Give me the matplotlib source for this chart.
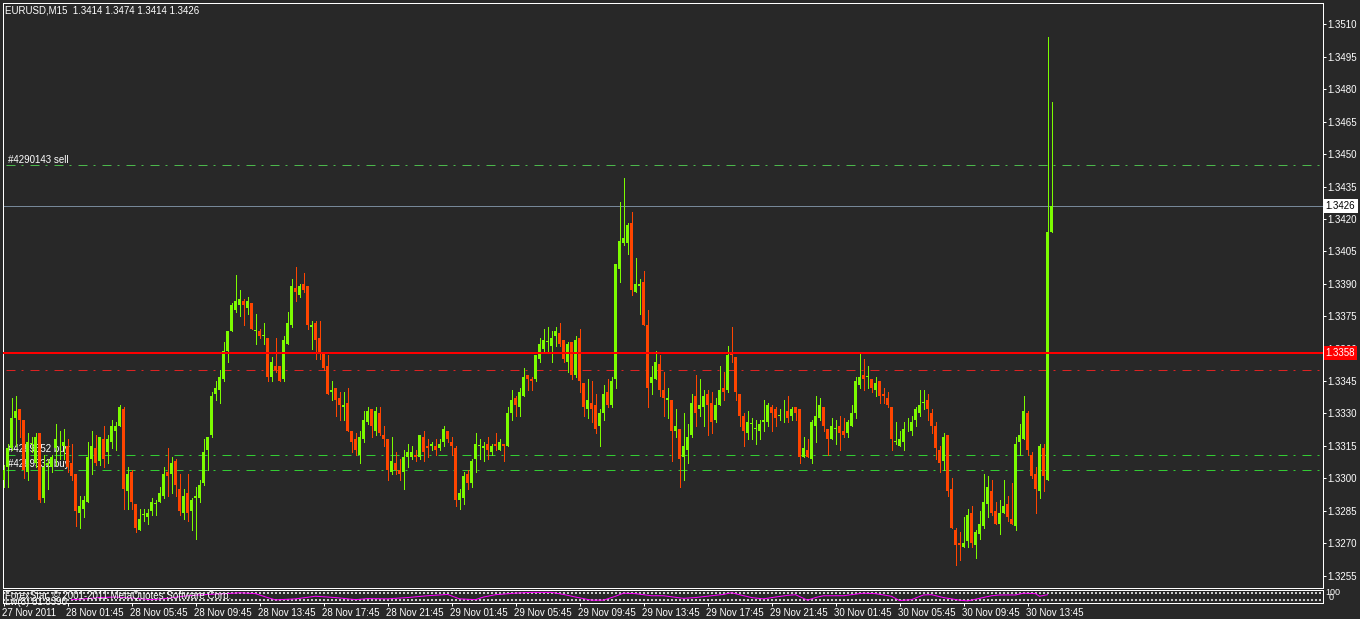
import matplotlib
matplotlib.use("Agg")
import matplotlib.pyplot as plt
from matplotlib.transforms import blended_transform_factory, ScaledTranslation
import numpy as np

plt.rcParams['font.family'] = ['Liberation Sans', 'DejaVu Sans']

title_text = "EURUSD,M15  1.3414 1.3474 1.3414 1.3426"

# M15 bars (oldest first)
opens = [
    1.3299, 1.3305, 1.3314, 1.3328, 1.3332, 1.3327, 1.3303, 1.3316, 1.3307, 1.3321,
    1.3291, 1.3306, 1.3305, 1.3314, 1.3318, 1.3315, 1.3315, 1.3307, 1.3302, 1.3284,
    1.3286, 1.3289, 1.3309, 1.3314, 1.3308, 1.3318, 1.3312, 1.3317, 1.3322, 1.3324,
    1.3332, 1.3294, 1.3303, 1.3288, 1.3276, 1.3283, 1.3282, 1.3285, 1.3288, 1.3289,
    1.3292, 1.3303, 1.3302, 1.3308, 1.3295, 1.3284, 1.3293, 1.3285, 1.3291, 1.3291,
    1.3298, 1.3313, 1.3320, 1.3339, 1.3341, 1.3346, 1.3359, 1.3368, 1.3378, 1.3380,
    1.3382, 1.3379, 1.3381, 1.3368, 1.3368, 1.3366, 1.3365, 1.3347, 1.3352, 1.3352,
    1.3346, 1.3362, 1.3371, 1.3388, 1.3385, 1.3390, 1.3389, 1.3370, 1.3372, 1.3365,
    1.3358, 1.3352, 1.3340, 1.3342, 1.3337, 1.3333, 1.3335, 1.3322, 1.3318, 1.3311,
    1.3318, 1.3326, 1.3332, 1.3322, 1.3330, 1.3320, 1.3318, 1.3303, 1.3307, 1.3304,
    1.3303, 1.3310, 1.3310, 1.3311, 1.3310, 1.3319, 1.3315, 1.3315, 1.3315, 1.3314,
    1.3317, 1.3322, 1.3317, 1.3314, 1.3290, 1.3291, 1.3302, 1.3298, 1.3309, 1.3315,
    1.3314, 1.3316, 1.3312, 1.3316, 1.3313, 1.3316, 1.3315, 1.3330, 1.3337, 1.3333,
    1.3338, 1.3348, 1.3346, 1.3346, 1.3355, 1.3360, 1.3363, 1.3361, 1.3366, 1.3367,
    1.3364, 1.3354, 1.3363, 1.3348, 1.3365, 1.3344, 1.3332, 1.3335, 1.3334, 1.3324,
    1.3330, 1.3340, 1.3334, 1.3346, 1.3397, 1.3409, 1.3409, 1.3418, 1.3386, 1.3389,
    1.3391, 1.3371, 1.3344, 1.3346, 1.3353, 1.3341, 1.3336, 1.3336, 1.3322, 1.3323,
    1.3310, 1.3313, 1.3320, 1.3338, 1.3332, 1.3333, 1.3339, 1.3335, 1.3327, 1.3334,
    1.3342, 1.3341, 1.3358, 1.3356, 1.3339, 1.3329, 1.3321, 1.3325, 1.3323, 1.3322,
    1.3326, 1.3326, 1.3333, 1.3332, 1.3329, 1.3330, 1.3331, 1.3329, 1.3333, 1.3332,
    1.3310, 1.3313, 1.3309, 1.3324, 1.3328, 1.3333, 1.3323, 1.3318, 1.3323, 1.3324,
    1.3322, 1.3321, 1.3324, 1.3330, 1.3343, 1.3348, 1.3347, 1.3346, 1.3341, 1.3345,
    1.3339, 1.3337, 1.3333, 1.3317, 1.3315, 1.3317, 1.3324, 1.3322, 1.3327, 1.3330,
    1.3335, 1.3336, 1.3330, 1.3324, 1.3313, 1.3308, 1.3320, 1.3295, 1.3276, 1.3270,
    1.3268, 1.3271, 1.3284, 1.3269, 1.3274, 1.3278, 1.3288, 1.3294, 1.3285, 1.3279,
    1.3284, 1.3288, 1.3281, 1.3278, 1.3317, 1.3318, 1.3330, 1.3311, 1.3302, 1.3294,
    1.3314, 1.3299, 1.3414,
]
highs = [
    1.3306, 1.3316, 1.3337, 1.3338, 1.3332, 1.3327, 1.3321, 1.3319, 1.3321, 1.3321,
    1.3311, 1.3309, 1.3311, 1.3325, 1.3322, 1.3323, 1.3318, 1.3316, 1.3302, 1.3292,
    1.3292, 1.3317, 1.3322, 1.3320, 1.3319, 1.3324, 1.3320, 1.3327, 1.3326, 1.3334,
    1.3333, 1.3305, 1.3304, 1.3288, 1.3286, 1.3286, 1.3286, 1.3291, 1.3290, 1.3296,
    1.3305, 1.3314, 1.3310, 1.3309, 1.3302, 1.3295, 1.3302, 1.3291, 1.3296, 1.3299,
    1.3318, 1.3319, 1.3340, 1.3345, 1.3350, 1.3363, 1.3368, 1.3381, 1.3394, 1.3387,
    1.3383, 1.3384, 1.3381, 1.3376, 1.3369, 1.3372, 1.3365, 1.3356, 1.3365, 1.3352,
    1.3366, 1.3377, 1.3392, 1.3398, 1.3390, 1.3395, 1.3389, 1.3373, 1.3373, 1.3373,
    1.3358, 1.3357, 1.3345, 1.3342, 1.3340, 1.3340, 1.3342, 1.3322, 1.3321, 1.3322,
    1.3331, 1.3333, 1.3332, 1.3333, 1.3333, 1.3324, 1.3318, 1.3319, 1.3312, 1.3309,
    1.3313, 1.3316, 1.3315, 1.3313, 1.3320, 1.3322, 1.3318, 1.3317, 1.3318, 1.3318,
    1.3324, 1.3322, 1.3319, 1.3315, 1.3295, 1.3303, 1.3304, 1.3309, 1.3321, 1.3318,
    1.3317, 1.3319, 1.3316, 1.3321, 1.3318, 1.3316, 1.3333, 1.3341, 1.3338, 1.3342,
    1.3351, 1.3348, 1.3347, 1.3357, 1.3365, 1.3369, 1.3370, 1.3368, 1.3370, 1.3372,
    1.3364, 1.3363, 1.3363, 1.3366, 1.3369, 1.3344, 1.3346, 1.3345, 1.3339, 1.3332,
    1.3343, 1.3346, 1.3347, 1.3399, 1.3428, 1.3439, 1.3418, 1.3423, 1.3402, 1.3392,
    1.3396, 1.3378, 1.3352, 1.3359, 1.3357, 1.3349, 1.3342, 1.3336, 1.3332, 1.3323,
    1.3330, 1.3325, 1.3339, 1.3348, 1.3346, 1.3341, 1.3341, 1.3340, 1.3337, 1.3352,
    1.3349, 1.3361, 1.3370, 1.3356, 1.3339, 1.3330, 1.3331, 1.3328, 1.3327, 1.3327,
    1.3336, 1.3335, 1.3334, 1.3333, 1.3332, 1.3336, 1.3338, 1.3333, 1.3333, 1.3332,
    1.3319, 1.3318, 1.3327, 1.3338, 1.3337, 1.3333, 1.3323, 1.3328, 1.3327, 1.3329,
    1.3328, 1.3327, 1.3334, 1.3347, 1.3358, 1.3355, 1.3352, 1.3346, 1.3347, 1.3345,
    1.3342, 1.3340, 1.3333, 1.3326, 1.3322, 1.3326, 1.3328, 1.3329, 1.3333, 1.3341,
    1.3341, 1.3339, 1.3332, 1.3326, 1.3315, 1.3321, 1.3320, 1.3300, 1.3277, 1.3275,
    1.3282, 1.3286, 1.3287, 1.3276, 1.3285, 1.3302, 1.3301, 1.3299, 1.3289, 1.3290,
    1.3299, 1.3292, 1.3298, 1.3319, 1.3325, 1.3338, 1.3331, 1.3312, 1.3305, 1.3316,
    1.3316, 1.3504, 1.3474,
]
lows = [
    1.3296, 1.3296, 1.3313, 1.3315, 1.3319, 1.3300, 1.3299, 1.3312, 1.3305, 1.3289,
    1.3289, 1.3295, 1.3303, 1.3306, 1.3309, 1.3309, 1.3303, 1.3299, 1.3278, 1.3277,
    1.3282, 1.3289, 1.3302, 1.3306, 1.3306, 1.3305, 1.3307, 1.3314, 1.3313, 1.3324,
    1.3286, 1.3286, 1.3286, 1.3275, 1.3276, 1.3280, 1.3279, 1.3283, 1.3283, 1.3289,
    1.3291, 1.3292, 1.3293, 1.3292, 1.3283, 1.3281, 1.3280, 1.3276, 1.3272, 1.3289,
    1.3297, 1.3304, 1.3319, 1.3336, 1.3335, 1.3345, 1.3354, 1.3368, 1.3377, 1.3375,
    1.3371, 1.3376, 1.3369, 1.3362, 1.3365, 1.3362, 1.3345, 1.3345, 1.3349, 1.3345,
    1.3345, 1.3362, 1.3370, 1.3382, 1.3384, 1.3386, 1.3369, 1.3360, 1.3355, 1.3355,
    1.3350, 1.3339, 1.3336, 1.3329, 1.3327, 1.3327, 1.3322, 1.3312, 1.3311, 1.3307,
    1.3317, 1.3325, 1.3319, 1.3320, 1.3320, 1.3315, 1.3299, 1.3302, 1.3302, 1.3299,
    1.3295, 1.3305, 1.3309, 1.3308, 1.3309, 1.3308, 1.3310, 1.3313, 1.3311, 1.3313,
    1.3315, 1.3317, 1.3311, 1.3287, 1.3286, 1.3288, 1.3295, 1.3296, 1.3303, 1.3309,
    1.3308, 1.3309, 1.3311, 1.3313, 1.3313, 1.3308, 1.3315, 1.3327, 1.3329, 1.3329,
    1.3338, 1.3341, 1.3341, 1.3345, 1.3354, 1.3358, 1.3358, 1.3354, 1.3361, 1.3361,
    1.3354, 1.3349, 1.3346, 1.3347, 1.3340, 1.3329, 1.3328, 1.3326, 1.3321, 1.3315,
    1.3327, 1.3333, 1.3333, 1.3342, 1.3391, 1.3408, 1.3404, 1.3385, 1.3386, 1.3376,
    1.3371, 1.3333, 1.3339, 1.3346, 1.3338, 1.3329, 1.3328, 1.3308, 1.3319, 1.3296,
    1.3299, 1.3307, 1.3319, 1.3324, 1.3329, 1.3324, 1.3320, 1.3321, 1.3326, 1.3334,
    1.3336, 1.3340, 1.3354, 1.3336, 1.3324, 1.3315, 1.3318, 1.3318, 1.3316, 1.3318,
    1.3322, 1.3324, 1.3322, 1.3324, 1.3327, 1.3326, 1.3326, 1.3327, 1.3327, 1.3307,
    1.3310, 1.3310, 1.3307, 1.3317, 1.3327, 1.3322, 1.3311, 1.3318, 1.3316, 1.3313,
    1.3319, 1.3319, 1.3324, 1.3328, 1.3342, 1.3341, 1.3342, 1.3340, 1.3338, 1.3335,
    1.3335, 1.3333, 1.3313, 1.3316, 1.3315, 1.3313, 1.3322, 1.3320, 1.3324, 1.3329,
    1.3332, 1.3327, 1.3321, 1.3309, 1.3303, 1.3304, 1.3292, 1.3277, 1.3260, 1.3262,
    1.3268, 1.3268, 1.3268, 1.3263, 1.3272, 1.3277, 1.3282, 1.3283, 1.3279, 1.3274,
    1.3284, 1.3280, 1.3279, 1.3276, 1.3311, 1.3318, 1.3311, 1.3300, 1.3284, 1.3291,
    1.3294, 1.3299, 1.3414,
]
closes = [
    1.3304, 1.3314, 1.3328, 1.3331, 1.3327, 1.3304, 1.3317, 1.3316, 1.3319, 1.3290,
    1.3305, 1.3307, 1.3310, 1.3318, 1.3318, 1.3317, 1.3305, 1.3301, 1.3285, 1.3287,
    1.3290, 1.3310, 1.3315, 1.3307, 1.3319, 1.3309, 1.3318, 1.3324, 1.3324, 1.3333,
    1.3295, 1.3302, 1.3289, 1.3277, 1.3281, 1.3283, 1.3284, 1.3289, 1.3288, 1.3293,
    1.3302, 1.3301, 1.3307, 1.3297, 1.3285, 1.3292, 1.3284, 1.3290, 1.3292, 1.3297,
    1.3312, 1.3319, 1.3338, 1.3342, 1.3347, 1.3359, 1.3368, 1.3380, 1.3382, 1.3383,
    1.3380, 1.3382, 1.3369, 1.3368, 1.3366, 1.3366, 1.3347, 1.3354, 1.3350, 1.3345,
    1.3364, 1.3372, 1.3389, 1.3386, 1.3389, 1.3387, 1.3371, 1.3371, 1.3364, 1.3358,
    1.3351, 1.3339, 1.3341, 1.3336, 1.3334, 1.3334, 1.3322, 1.3317, 1.3313, 1.3319,
    1.3327, 1.3331, 1.3324, 1.3331, 1.3321, 1.3318, 1.3304, 1.3308, 1.3304, 1.3302,
    1.3310, 1.3312, 1.3312, 1.3310, 1.3320, 1.3312, 1.3314, 1.3316, 1.3313, 1.3316,
    1.3323, 1.3318, 1.3315, 1.3290, 1.3293, 1.3301, 1.3298, 1.3308, 1.3316, 1.3315,
    1.3315, 1.3313, 1.3315, 1.3315, 1.3317, 1.3315, 1.3330, 1.3336, 1.3334, 1.3340,
    1.3347, 1.3346, 1.3345, 1.3357, 1.3362, 1.3364, 1.3363, 1.3365, 1.3368, 1.3362,
    1.3355, 1.3362, 1.3348, 1.3364, 1.3345, 1.3333, 1.3336, 1.3332, 1.3323, 1.3330,
    1.3339, 1.3334, 1.3345, 1.3399, 1.3410, 1.3411, 1.3417, 1.3387, 1.3390, 1.3390,
    1.3371, 1.3342, 1.3347, 1.3354, 1.3341, 1.3337, 1.3337, 1.3322, 1.3324, 1.3309,
    1.3315, 1.3319, 1.3335, 1.3330, 1.3334, 1.3338, 1.3334, 1.3326, 1.3334, 1.3341,
    1.3340, 1.3357, 1.3357, 1.3340, 1.3329, 1.3322, 1.3326, 1.3325, 1.3323, 1.3325,
    1.3327, 1.3334, 1.3330, 1.3328, 1.3329, 1.3330, 1.3328, 1.3332, 1.3330, 1.3310,
    1.3314, 1.3310, 1.3326, 1.3329, 1.3334, 1.3324, 1.3318, 1.3324, 1.3323, 1.3321,
    1.3320, 1.3326, 1.3330, 1.3345, 1.3347, 1.3346, 1.3347, 1.3342, 1.3344, 1.3338,
    1.3338, 1.3334, 1.3318, 1.3317, 1.3318, 1.3323, 1.3324, 1.3326, 1.3332, 1.3334,
    1.3335, 1.3332, 1.3324, 1.3314, 1.3307, 1.3319, 1.3294, 1.3277, 1.3269, 1.3269,
    1.3270, 1.3283, 1.3270, 1.3275, 1.3279, 1.3289, 1.3296, 1.3284, 1.3279, 1.3284,
    1.3287, 1.3282, 1.3279, 1.3316, 1.3320, 1.3331, 1.3313, 1.3301, 1.3295, 1.3315,
    1.3301, 1.3414, 1.3426,
]

time_labels = ["27 Nov 2011", "28 Nov 01:45", "28 Nov 05:45", "28 Nov 09:45",
               "28 Nov 13:45", "28 Nov 17:45", "28 Nov 21:45", "29 Nov 01:45",
               "29 Nov 05:45", "29 Nov 09:45", "29 Nov 13:45", "29 Nov 17:45",
               "29 Nov 21:45", "30 Nov 01:45", "30 Nov 05:45", "30 Nov 09:45",
               "30 Nov 13:45"]
bars_per_label = 16

price_labels = ["1.3255", "1.3270", "1.3285", "1.3300", "1.3315", "1.3330",
                "1.3345", "1.3360", "1.3375", "1.3390", "1.3405", "1.3420",
                "1.3435", "1.3450", "1.3465", "1.3480", "1.3495", "1.3510"]

bid_price = 1.3426
red_level = 1.3358
red_level_dashed = 1.3350
order_names = ["#4290143 sell", "#4289552 buy", "#4289532 buy"]
order_prices = [1.3445, 1.3311, 1.3304]

# indicator in the small window below
osc_bars = [17, 21, 24, 28, 33, 37, 41, 46, 51, 58, 59, 63, 66, 68, 73, 78, 83, 88,
            91, 96, 101, 106, 111, 114, 118, 120, 123, 128, 132, 137, 140, 143, 147,
            150, 153, 155, 158, 162, 165, 170, 173, 177, 180, 182, 184, 187, 190, 193,
            196, 198, 201, 203, 205, 210, 215, 218, 222, 224, 227, 230, 232, 235, 239,
            241, 244, 247, 249, 253, 255, 258, 259, 261]
osc_values = [22, 30, 38, 42, 32, 22, 32, 52, 62, 72, 75, 68, 38, 20, 28, 48, 38, 22,
              30, 28, 38, 52, 62, 28, 22, 42, 60, 72, 78, 78, 62, 42, 18,
              18, 48, 72, 68, 52, 52, 32, 38, 52, 62, 75, 60, 38, 28, 42,
              55, 60, 18, 38, 52, 52, 72, 68, 48, 15, 22, 58, 60, 38, 18,
              12, 32, 52, 58, 58, 72, 68, 48, 60]
osc_levels = [20, 75]

BG = "#282828"
BULL = "#7cfc00"
BEAR = "#ff4500"
FG = "white"
W, H = 1360, 619
PX = 0.72  # one pixel in points

fig = plt.figure(figsize=(W / 100, H / 100), dpi=100, facecolor=BG)


def px_axes(x0, y0, x1, y1):
    # box given in pixels from the top-left corner
    return fig.add_axes([x0 / W, 1 - y1 / H, (x1 - x0) / W, (y1 - y0) / H])


ax = px_axes(2.5, 2.5, 1322.5, 587.5)
sub = px_axes(2.5, 589.5, 1322.5, 602.5)

xlim = (-0.25, 329.75)
for a in (ax, sub):
    a.set_facecolor(BG)
    a.set_xlim(*xlim)
    for s in a.spines.values():
        s.set_color(FG)
        s.set_linewidth(PX)

ax.set_ylim(1.324945, 1.352018)

# candles
o = np.array(opens)
h = np.array(highs)
l = np.array(lows)
c = np.array(closes)
x = np.arange(len(o))
cols = np.where(c >= o, BULL, BEAR)
ax.vlines(x, l, h, colors=cols, linewidth=PX, zorder=3, antialiased=False)
body = np.maximum(np.abs(c - o), 0.00004)
ax.bar(x, body, bottom=np.minimum(o, c), width=0.75, color=cols, linewidth=0,
       zorder=4, antialiased=False)

# levels
ax.axhline(bid_price, color="#778899", lw=PX, zorder=2)
ax.axhline(red_level_dashed, xmin=0.003, xmax=0.997, color="#dd2222", lw=PX,
           linestyle=(0, (9, 6, 2, 7)), zorder=2)
trans = blended_transform_factory(ax.transAxes, ax.transData)
for k, (name, p) in enumerate(zip(order_names, order_prices)):
    col = "#4cb84c" if k == 0 else "#33cc33"
    ax.axhline(p, xmin=0.003, xmax=0.997, color=col, lw=PX,
               linestyle=(0, (9, 6, 2, 7)), zorder=2)
    ax.text(0.0043, p + 0.0001, name, transform=trans, color=FG, fontsize=7,
            va="baseline", ha="left", zorder=2.2)
ax.axhline(red_level, color="#ff0000", lw=2 * PX, zorder=5)

# price scale on the right
ax.yaxis.tick_right()
price_ticks = [float(s) for s in price_labels]
ax.set_yticks(price_ticks)
ax.set_yticklabels(price_labels)
ax.tick_params(axis="y", colors=FG, direction="out", length=3 * PX, width=PX,
               pad=1.2, labelsize=7)
ax.tick_params(axis="x", bottom=False, labelbottom=False)

ax.text(1.0025, bid_price, "%.4f" % bid_price, transform=trans, fontsize=7,
        color="black", va="center", ha="left", clip_on=False, zorder=10,
        bbox=dict(boxstyle="square,pad=0.22", fc="white", ec="none"))
ax.text(1.0025, red_level, "%.4f" % red_level, transform=trans, fontsize=7,
        color="white", va="center", ha="left", clip_on=False, zorder=10,
        bbox=dict(boxstyle="square,pad=0.22", fc="#ff0000", ec="none"))

fig.text(5 / W, 1 - 10.5 / H, title_text, color=FG, fontsize=7, va="center", ha="left")

# sub window
sub.set_ylim(0, 100)
for lv in osc_levels:
    sub.axhline(lv, color="#c8c8c8", lw=2 * PX, linestyle=(0, (1, 1)), zorder=1)
sub.plot(osc_bars, osc_values, color="#ff00ff", lw=PX, zorder=2)
sub.text(0.002, 0.9, "ForexStar, \u00a9 2001-2011 MetaQuotes Software Corp.",
         transform=sub.transAxes, color=FG, fontsize=7, va="top", ha="left", zorder=3)
sub.text(0.002, 0.45, "Lw(8) 81.8390", transform=sub.transAxes, color=FG,
         fontsize=7, va="top", ha="left", zorder=3)
sub.text(1.002, 0.75, "100", transform=sub.transAxes, color=FG, fontsize=6.5,
         va="center", ha="left", clip_on=False)
sub.text(1.005, 0.4, "0", transform=sub.transAxes, color=FG, fontsize=6.5,
         va="center", ha="left", clip_on=False)
sub.set_yticks([])

tick_pos = [k * bars_per_label for k in range(len(time_labels))]
sub.set_xticks(tick_pos)
sub.set_xticklabels(time_labels)
sub.tick_params(axis="x", colors=FG, direction="out", length=3 * PX, width=PX,
                pad=1.5, labelsize=7)
shift = ScaledTranslation(-1.5 / 100, 0, fig.dpi_scale_trans)
for lab in sub.get_xticklabels():
    lab.set_horizontalalignment("left")
    lab.set_transform(lab.get_transform() + shift)

fig.savefig("out.png", dpi=100, facecolor=BG)
